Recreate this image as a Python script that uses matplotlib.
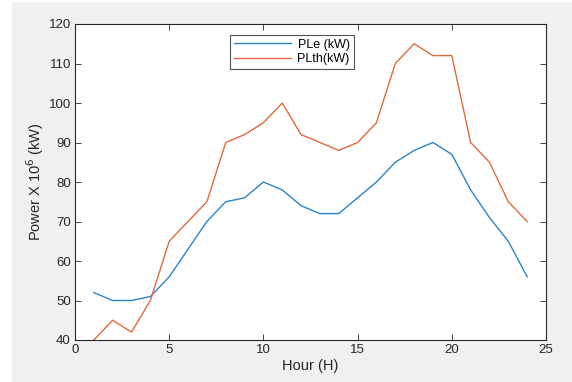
import matplotlib
matplotlib.use("Agg")
import matplotlib.pyplot as plt
from matplotlib.patches import Rectangle

hours = list(range(1, 25))
ple = [52, 50, 50, 51, 56, 63, 70, 75, 76, 80, 78, 74, 72, 72, 76, 80, 85, 88, 90, 87, 78, 71, 65, 56]
plth = [40, 45, 42, 50, 65, 70, 75, 90, 92, 95, 100, 92, 90, 88, 90, 95, 110, 115, 112, 112, 90, 85, 75, 70]
xticks = [0, 5, 10, 15, 20, 25]
yticks = [40, 50, 60, 70, 80, 90, 100, 110, 120]

plt.rcParams['font.family'] = ['Liberation Sans', 'DejaVu Sans']

fig = plt.figure(figsize=(5.72, 3.82), dpi=100, facecolor='white')
fig.patches.append(Rectangle((12/572, 0), 1, 1 - 2/382, transform=fig.transFigure,
                             facecolor='#f0f0f0', edgecolor='none', zorder=-10))
ax = fig.add_axes([75/572, 1 - 340/382, (546-75)/572, (340-24)/382])
ax.set_facecolor('white')
ax.plot(hours, ple, color='#2a85c8', lw=1.0, label='PLe (kW)')
ax.plot(hours, plth, color='#e06a3a', lw=1.0, label='PLth(kW)')
ax.set_xlim(0, 25)
ax.set_ylim(40, 120)
ax.set_xticks(xticks)
ax.set_yticks(yticks)
ax.tick_params(direction='in', top=True, right=True, length=4, width=0.6,
               labelsize=9.5, colors='#262626', pad=3)
for s in ax.spines.values():
    s.set_color('#262626')
    s.set_linewidth(0.8)
ax.set_xlabel('Hour (H)', fontsize=10.5, color='#262626', labelpad=2)
ax.set_ylabel('Power X 10$^6$ (kW)', fontsize=10.5, color='#262626', labelpad=2)
leg = ax.legend(loc='upper left', bbox_to_anchor=(230/572, 1 - 35/382), bbox_transform=fig.transFigure,
                fontsize=9, frameon=True, fancybox=False, edgecolor='#262626',
                handlelength=4.6, borderpad=0.3, labelspacing=0.2, handletextpad=0.5, borderaxespad=0)
leg.get_frame().set_linewidth(0.8)
fig.savefig('out.png', dpi=100, facecolor=fig.get_facecolor())
